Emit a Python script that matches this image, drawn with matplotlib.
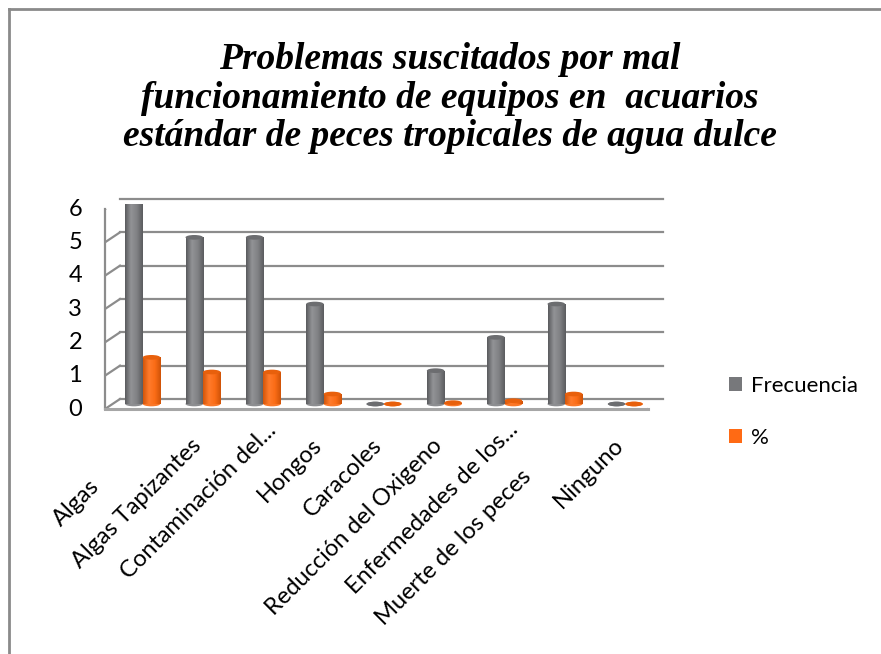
import numpy as np
import matplotlib
matplotlib.use("Agg")
import matplotlib.pyplot as plt
from matplotlib import transforms
from matplotlib.patches import Ellipse, Patch
from matplotlib.lines import Line2D
from matplotlib.colors import LinearSegmentedColormap

# ---- data ----
categories = ["Algas", "Algas Tapizantes", "Contaminación del...", "Hongos", "Caracoles",
              "Reducción del Oxigeno", "Enfermedades de los...", "Muerte de los peces", "Ninguno"]
frecuencia = [6, 5, 5, 3, 0, 1, 2, 3, 0]
porcentaje = [1.4, 0.96, 0.96, 0.3, 0, 0.04, 0.1, 0.3, 0]
series_names = ["Frecuencia", "%"]
yticks = [0, 1, 2, 3, 4, 5, 6]
title = "Problemas suscitados por mal\nfuncionamiento de equipos en  acuarios\nestándar de peces tropicales de agua dulce"

# ---- layout / style ----
W, H = 881, 654
fig = plt.figure(figsize=(W / 100, H / 100), dpi=100)
ax = fig.add_axes([105 / W, 245 / H, 543 / W, 200 / H])
ax.set_xlim(0, len(categories))
ax.set_ylim(0, 6)
ax.axis("off")

DX, DY = 15, 10  # depth offset in pixels
back = transforms.offset_copy(ax.transData, fig=fig, x=DX, y=DY, units="dots")
mid = transforms.offset_copy(ax.transData, fig=fig, x=DX / 2, y=DY / 2, units="dots")

grid_c = "#8c8c8c"
for v in yticks:
    ax.plot([0, len(categories)], [v, v], color=grid_c, lw=1.6, transform=back, clip_on=False, zorder=1)
    p = ax.transData.transform((0, v))
    ax.add_line(Line2D([p[0], p[0] + DX], [p[1], p[1] + DY], color=grid_c, lw=1.6,
                       transform=transforms.IdentityTransform(), zorder=1))
ax.plot([0, 0], [0, 6], color=grid_c, lw=1.6, clip_on=False, zorder=1)
ax.plot([0, len(categories)], [0, 0], color="#a6a6a6", lw=2.2, clip_on=False, zorder=1)
p = ax.transData.transform((len(categories), 0))
ax.add_line(Line2D([p[0], p[0] + DX], [p[1], p[1] + DY], color="#a6a6a6", lw=1.6,
                   transform=transforms.IdentityTransform(), zorder=1))

gray_cmap = LinearSegmentedColormap.from_list("g", ["#5a5b5e", "#929396", "#808184", "#5b5c5f"])
orange_cmap = LinearSegmentedColormap.from_list("o", ["#d4560a", "#ff7b2c", "#fb6c16", "#cf5308"])
series = [(frecuencia, gray_cmap, "#7a7b7e", "#6c6d70"), (porcentaje, orange_cmap, "#f96a12", "#e8600c")]

x = np.arange(len(categories)) + 0.5
bw = 0.29
cap_h = 0.14
grad = np.linspace(0, 1, 64).reshape(1, -1)
for i, (vals, cmap, col, capcol) in enumerate(series):
    xs = x + (i - 0.5) * bw
    bars = ax.bar(xs, vals, width=bw, color=col, transform=mid, zorder=3 + i, linewidth=0)
    for xc, v, b in zip(xs, vals, bars):
        ax.add_patch(Ellipse((xc, 0), bw, cap_h, facecolor=cmap(0.3), edgecolor="none",
                             transform=mid, zorder=3 + i))
        if v > 0:
            im = ax.imshow(grad, cmap=cmap, aspect="auto", extent=(xc - bw / 2, xc + bw / 2, 0, v),
                           transform=mid, zorder=3 + i, interpolation="bilinear")
            im.set_clip_path(b)
        ax.add_patch(Ellipse((xc, v), bw, cap_h, facecolor=capcol, edgecolor="none",
                             transform=mid, zorder=3.5 + i))
ax.set_xlim(0, len(categories))
ax.set_ylim(0, 6)

tick_font = "Lato"
fs = 17
for v in yticks:
    ax.text(-0.38, v, str(v), ha="right", va="center", fontsize=fs, family=tick_font,
            transform=ax.transData)

# category labels (rotated 45°), shifted along their own direction
label_shift = [-58, 0, 22, 0, 0, 0, 22, -45, 0]
for xc, lab, s in zip(x, categories, label_shift):
    px, py = ax.transData.transform((xc, 0))
    d = s / np.sqrt(2)
    ax.text(px + 2 + d, py - 33 + d, lab, rotation=45, rotation_mode="anchor",
            ha="right", va="center", fontsize=fs, family=tick_font,
            transform=transforms.IdentityTransform())

# title
fig.text(450 / W, 1 - 98 / H, title, ha="center", va="center", fontsize=27,
         family="Liberation Serif", weight="bold", style="italic", linespacing=1.13)

# legend
handles = [Patch(facecolor="#77787b"), Patch(facecolor="#ff6a14")]
leg = fig.legend(handles, series_names, loc="center left", bbox_to_anchor=(729 / W, 1 - 412 / H),
                 frameon=False, prop={"family": tick_font, "size": 16}, handlelength=0.6,
                 handleheight=0.6, handletextpad=0.4, labelspacing=1.45, borderpad=0,
                 borderaxespad=0)

# outer frame (left and top visible)
fig.add_artist(Line2D([8.5 / W, 8.5 / W], [0, 1 - 8.5 / H], color="#8a8a8a", lw=2,
                      transform=fig.transFigure))
fig.add_artist(Line2D([8.5 / W, 1], [1 - 8.5 / H, 1 - 8.5 / H], color="#8a8a8a", lw=2,
                      transform=fig.transFigure))

fig.savefig("out.png", dpi=100, facecolor="white")
